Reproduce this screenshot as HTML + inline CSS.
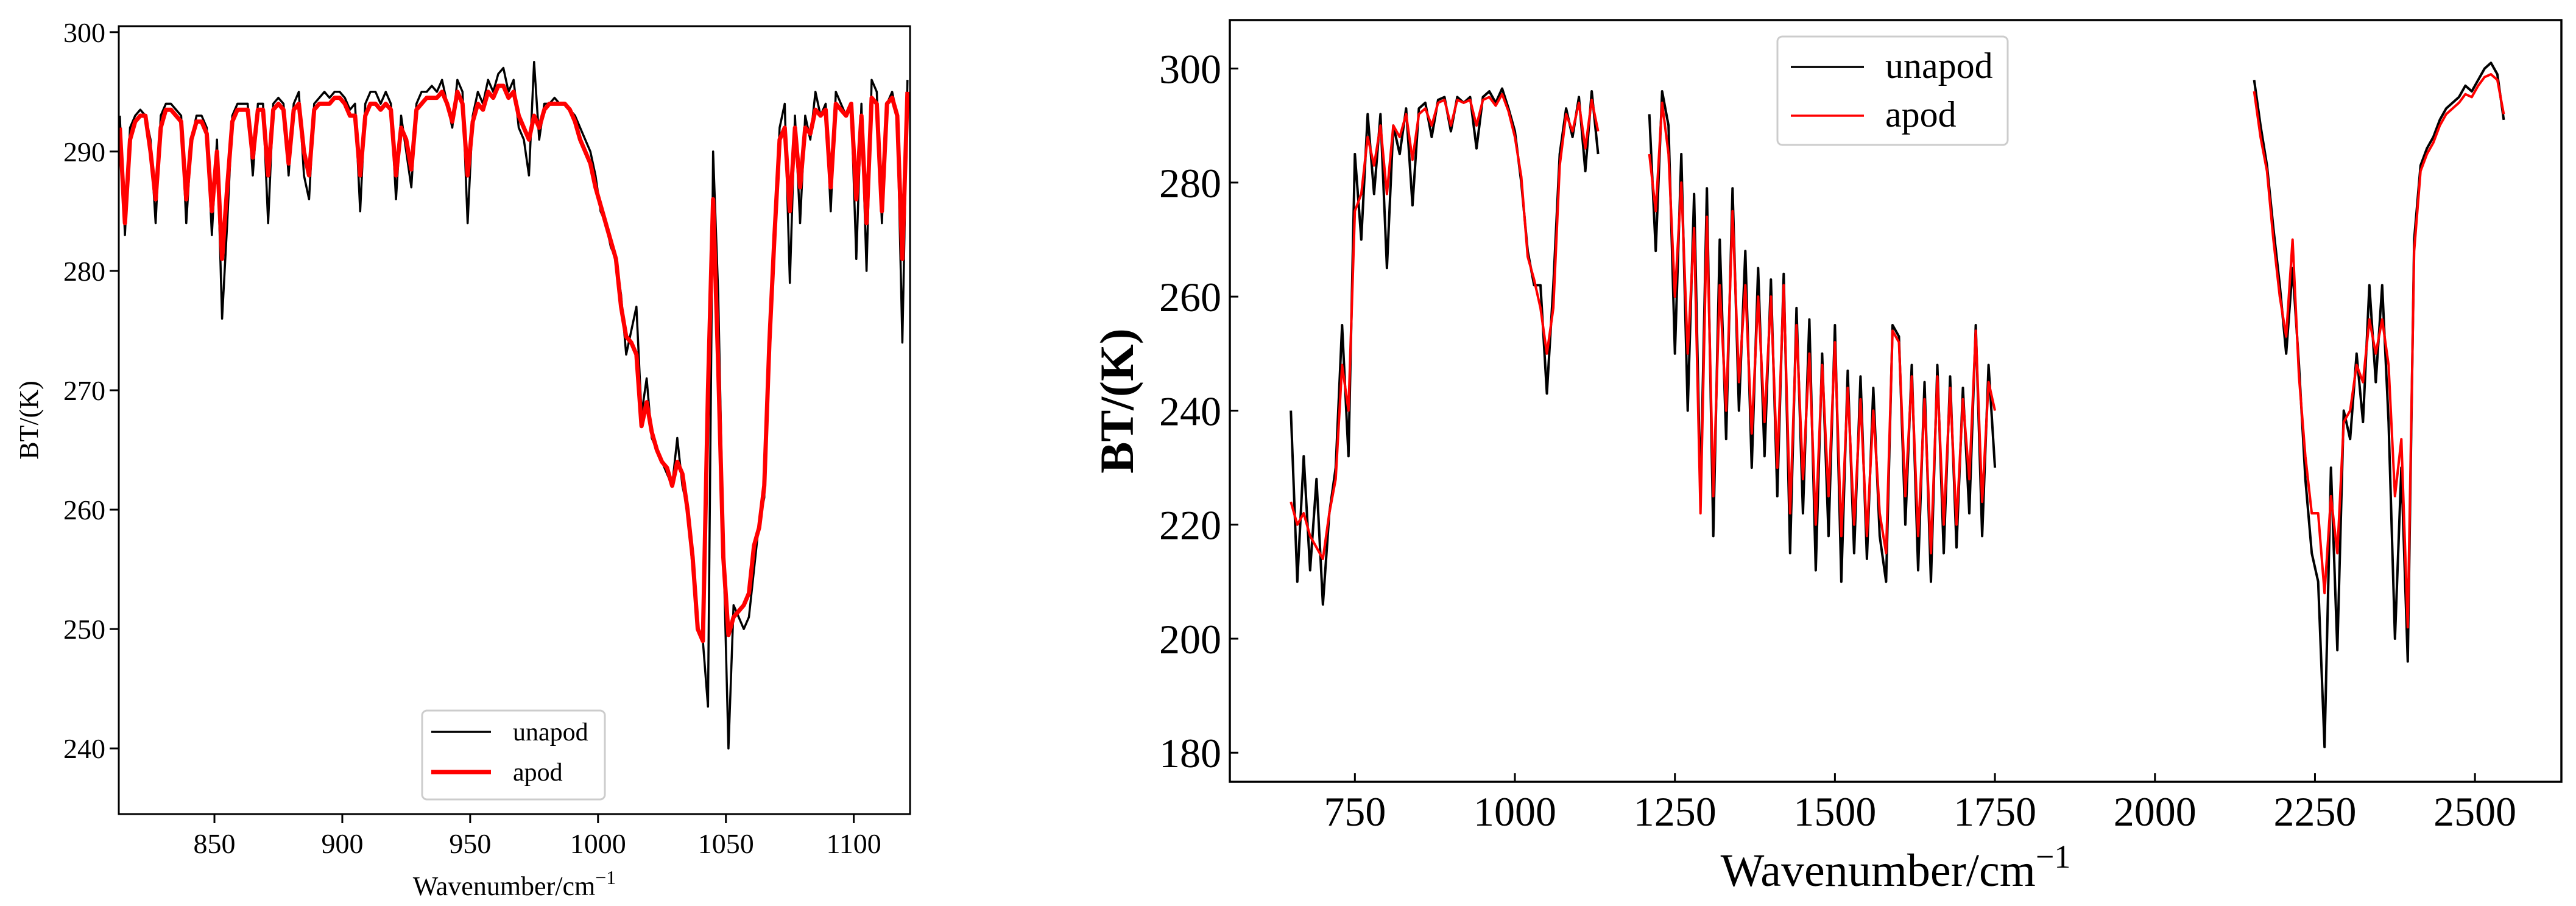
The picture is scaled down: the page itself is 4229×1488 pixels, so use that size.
<!DOCTYPE html>
<html><head><meta charset="utf-8">
<style>
html,body{margin:0;padding:0;background:#fff;}
svg{display:block;font-family:"Liberation Serif",serif;}
</style></head>
<body>
<svg id="chart" width="4229" height="1488" viewBox="0 0 4229 1488" xmlns="http://www.w3.org/2000/svg">
<rect width="4229" height="1488" fill="#fff"/>
<g id="left"></g>
<g id="right"></g>
</svg>
<script>
// ---------- Left panel data ----------
const leftStart = 813, leftStep = 2;
const leftUnapod = [
293,283,292,293,293.5,293,291,284,293,294,
294,293.5,293,284,291,293,293,292,283,291,
276,284,293,294,294,294,288,294,294,284,
294,294.5,294,288,294,295,288,286,294,294.5,
295,294.5,295,295,294.5,293.5,294,285,294,295,
295,294,295,294,286,293,290,287,294,295,
295,295.5,295,296,294,292,296,295,284,293,
295,294,296,295,296.5,297,295,296,292,291,
288,297.5,291,294,294,294.5,294,294,293.5,293,
292,291,290,288,285,284,282,281,278,273,
275,277,268,271,266,265,264,263,262,266,
262,260,255,250,249,243.5,290,278,257,240,
252,251,250,251,255,259,261,275,282,292,
294,279,293,284,293,291,295,293,294,285,
295,294,293,294,281,294,280,296,295,284,
294,295,293,274,296];
const leftApod = [
292,284,291,292.5,293,293,290,286,292,293.5,
293.5,293,292.5,286,291,292.5,292.5,291.5,285,290,
281,287,292.5,293.5,293.5,293.5,289.5,293.5,293.5,288,
293.5,294,293.5,289,293.5,294,290,288,293.5,294,
294,294,294.5,294.5,294,293,293,288,293,294,
294,293.5,294,293.5,288,292,291,288.5,293.5,294,
294.5,294.5,294.5,295,294,292.5,295,294,288,292.5,
294,293.5,295,294.5,295.5,295.5,294.5,295,293,292,
291,293,292,293.5,294,294,294,294,293.5,292.5,
291,290,289,287,285.5,284,282.5,281,277,274.5,
274,273,267,269,266.5,265,264,263.5,262,264,
263,260,256,250,249,270,286,272,256,249.5,
251,251.5,252,253,257,258.5,262,274,283,291,
292,285,292,287,292,291.5,293.5,293,293.5,287,
294,293.5,293,294,286,293,284,294.5,294,285,
294,294.5,293,281,295];
const leftXTicks = [850,900,950,1000,1050,1100];
const leftYTicks = [240,250,260,270,280,290,300];

// ---------- Right panel data ----------
const rightSegStarts = [650,1210,2155];
const rightStep = 10;
const rightUnapodA = [240,210,232,212,228,206,222,230,255,232,
285,270,292,278,292,265,290,285,293,276,
293,294,288,294.5,295,289,295,294,295,286,
295,296,294,296.5,293,289,280,268,262,262,
243,262,285,293,288,295,282,296,285];
const rightApodA = [224,220,222,218,216,214,222,228,248,240,
275,278,288,283,290,278,290,288,292,284,
292,293,290,294,294.5,290,294.5,294,294.5,290,
294.5,295,293.5,295.5,292.5,288,281,267,263,258,
250,258,283,292,289,294,286,294.5,289];
const rightUnapodB = [292,268,296,290,250,285,240,278,225,279,
218,270,235,279,240,268,230,265,232,263,
225,264,215,258,222,256,212,250,218,255,
210,247,215,246,214,244,218,210,255,253,
220,248,212,245,210,248,215,246,216,244,
222,255,218,248,230];
const rightApodB = [285,275,294,285,260,280,250,272,222,274,
225,262,240,275,245,262,236,260,238,260,
230,262,222,255,228,250,220,248,225,252,
218,244,220,242,218,240,222,215,254,252,
225,246,218,242,215,246,220,244,220,242,
228,254,224,245,240];
const rightUnapodC = [298,290,283,272,262,250,265,248,228,215,
210,181,230,198,240,235,250,238,262,245,
262,238,200,230,196,270,283,286,288,291,
293,294,295,297,296,298,300,301,299,291];
const rightApodC = [296,288,282,270,260,253,270,246,232,222,
222,208,225,215,238,240,248,245,256,250,
256,248,225,235,202,268,282,285,287,290,
292,293,294,295.5,295,297,298.5,299,298,292];
const rightXTicks = [750,1000,1250,1500,1750,2000,2250,2500];
const rightYTicks = [180,200,220,240,260,280,300];

const NS = "http://www.w3.org/2000/svg";
function mk(parent, tag, attrs, text){
  const e = document.createElementNS(NS, tag);
  for (const k in attrs) e.setAttribute(k, attrs[k]);
  if (text !== undefined) e.textContent = text;
  parent.appendChild(e);
  return e;
}
function scale(d0,d1,r0,r1){ return v => r0 + (v-d0)/(d1-d0)*(r1-r0); }

// ---------- Left panel ----------
(function(){
  const g = document.getElementById('left');
  const L=195,R=1494,T=43,B=1337;
  const xs = scale(812.6,1122,L,R), ys = scale(234.5,300.5,B,T);
  const cp = mk(g,'clipPath',{id:'clipL'}); mk(cp,'rect',{x:L,y:T,width:R-L,height:B-T});
  function path(vals){ return vals.map((v,i)=>(i?'L':'M')+xs(leftStart+i*leftStep).toFixed(1)+','+ys(v).toFixed(1)).join(''); }
  const pu = mk(g,'path',{d:path(leftUnapod),fill:'none',stroke:'#000','stroke-width':3.5,'stroke-linejoin':'round','clip-path':'url(#clipL)'});
  
  
  const pa = mk(g,'path',{d:path(leftApod),fill:'none',stroke:'#ff0000','stroke-width':7,'stroke-linejoin':'round','clip-path':'url(#clipL)'});
  
  
  const fr = mk(g,'rect',{x:L,y:T,width:R-L,height:B-T,fill:'none',stroke:'#000','stroke-width':3});
  
  
  leftXTicks.forEach(t=>{
    const x=xs(t);
    mk(g,'line',{x1:x,y1:B,x2:x,y2:B+15,stroke:'#000','stroke-width':3});
    const tl = mk(g,'text',{x:x,y:B+64,'font-size':46,'text-anchor':'middle'},String(t));
    
    
  });
  leftYTicks.forEach(t=>{
    const y=ys(t);
    mk(g,'line',{x1:L-15,y1:y,x2:L,y2:y,stroke:'#000','stroke-width':3});
    const tl = mk(g,'text',{x:L-22,y:y+16,'font-size':46,'text-anchor':'end'},String(t));
    
    
  });
  const xl = mk(g,'text',{x:(L+R)/2,y:1470,'font-size':44,'text-anchor':'middle'});
  xl.innerHTML='Wavenumber/cm<tspan dy="-18" font-size="32">\u22121</tspan>';
  
  
  const yl = mk(g,'text',{x:0,y:0,'font-size':44,'text-anchor':'middle',transform:'translate(62,'+((T+B)/2)+') rotate(-90)'},'BT/(K)');
  
  
  const lg = mk(g,'g',{});
  
  
  mk(lg,'rect',{x:693,y:1167,width:300,height:146,rx:8,fill:'#fff',stroke:'#ccc','stroke-width':3});
  mk(lg,'line',{x1:708,y1:1202,x2:806,y2:1202,stroke:'#000','stroke-width':3.5});
  mk(lg,'text',{x:842,y:1216,'font-size':42},'unapod');
  mk(lg,'line',{x1:708,y1:1268,x2:806,y2:1268,stroke:'#ff0000','stroke-width':7});
  mk(lg,'text',{x:842,y:1282,'font-size':42},'apod');
})();

// ---------- Right panel ----------
(function(){
  const g = document.getElementById('right');
  const L=2019,R=4205,T=33,B=1284;
  const xs = scale(554.6,2635,L,R), ys = scale(174.9,308.5,B,T);
  function path(start,vals){ return vals.map((v,i)=>(i?'L':'M')+xs(start+i*rightStep).toFixed(1)+','+ys(v).toFixed(1)).join(''); }
  const ud = path(rightSegStarts[0],rightUnapodA)+path(rightSegStarts[1],rightUnapodB)+path(rightSegStarts[2],rightUnapodC);
  const ad = path(rightSegStarts[0],rightApodA)+path(rightSegStarts[1],rightApodB)+path(rightSegStarts[2],rightApodC);
  const pu = mk(g,'path',{d:ud,fill:'none',stroke:'#000','stroke-width':4,'stroke-linejoin':'round'});
  
  
  const pa = mk(g,'path',{d:ad,fill:'none',stroke:'#ff0000','stroke-width':4,'stroke-linejoin':'round'});
  
  
  const fr = mk(g,'rect',{x:L,y:T,width:R-L,height:B-T,fill:'none',stroke:'#000','stroke-width':3.5});
  
  
  rightXTicks.forEach(t=>{
    const x=xs(t);
    mk(g,'line',{x1:x,y1:B,x2:x,y2:B-14,stroke:'#000','stroke-width':3});
    const tl = mk(g,'text',{x:x,y:B+72,'font-size':68,'text-anchor':'middle'},String(t));
    
    
  });
  rightYTicks.forEach(t=>{
    const y=ys(t);
    mk(g,'line',{x1:L,y1:y,x2:L+14,y2:y,stroke:'#000','stroke-width':3});
    const tl = mk(g,'text',{x:L-14,y:y+24,'font-size':68,'text-anchor':'end'},String(t));
    
    
  });
  const xl = mk(g,'text',{x:(L+R)/2,y:1455,'font-size':76,'text-anchor':'middle'});
  xl.innerHTML='Wavenumber/cm<tspan dy="-30" font-size="54">\u22121</tspan>';
  
  
  const yl = mk(g,'text',{x:0,y:0,'font-size':78,'font-weight':'bold','text-anchor':'middle',transform:'translate(1860,'+((T+B)/2)+') rotate(-90)'},'BT/(K)');
  
  
  const lg = mk(g,'g',{});
  
  
  mk(lg,'rect',{x:2918,y:60,width:378,height:178,rx:8,fill:'#fff',stroke:'#ccc','stroke-width':3});
  mk(lg,'line',{x1:2940,y1:110,x2:3060,y2:110,stroke:'#000','stroke-width':3.5});
  mk(lg,'text',{x:3095,y:128,'font-size':60},'unapod');
  mk(lg,'line',{x1:2940,y1:190,x2:3060,y2:190,stroke:'#ff0000','stroke-width':3.5});
  mk(lg,'text',{x:3095,y:208,'font-size':60},'apod');
})();
</script>
</body></html>
